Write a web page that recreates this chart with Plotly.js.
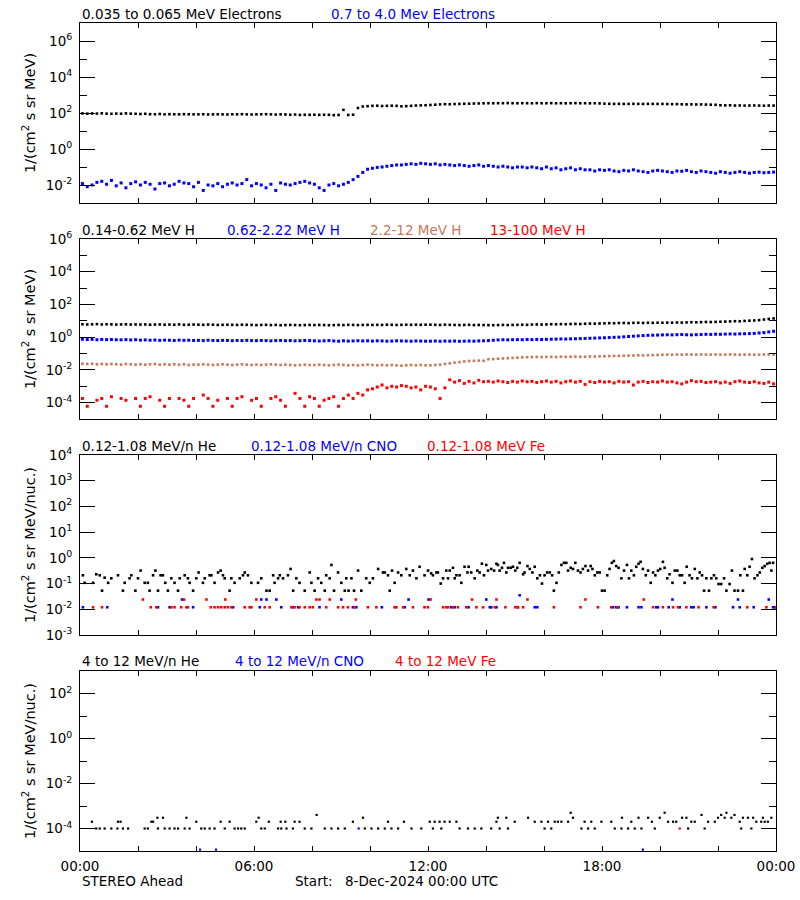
<!DOCTYPE html>
<html><head><meta charset="utf-8">
<script src="https://cdn.plot.ly/plotly-3.0.1.min.js"></script>
<style>body{margin:0;background:#fff}#plot{width:800px;height:900px}</style>
</head><body><div id="plot"></div><script>
// ---------- data (10-minute bins, 8-Dec-2024) ----------
const elecLow = [95,92,94,93,96,92,90,93,91,95,92,90,
88,90,86,85,88,84,86,85,84,86,85,84,
84,85,83,84,85,84,83,85,84,86,84,83,
84,85,86,84,82,84,83,80,82,78,80,79,
80,78,80,79,76,78,150,78,80,190,230,240,
250,255,245,250,255,250,235,240,250,260,265,270,
280,290,300,310,305,315,320,325,330,335,340,345,
350,348,352,350,355,350,348,352,350,348,352,350,
350,352,348,350,345,350,352,348,350,345,348,340,
330,325,320,322,318,320,325,320,318,322,320,318,
320,315,310,312,305,300,302,298,300,295,290,285,
270,265,268,260,262,258,260,262,258,255,260,258];
const elecHigh = [0.012,0.008,0.010,0.014,0.016,0.011,0.018,0.009,0.013,0.007,0.012,0.015,
0.010,0.014,0.011,0.006,0.012,0.013,0.009,0.011,0.016,0.013,0.012,0.008,
0.014,0.005,0.010,0.009,0.012,0.008,0.011,0.013,0.010,0.012,0.020,0.009,
0.012,0.010,0.007,0.011,0.005,0.013,0.011,0.010,0.012,0.014,0.016,0.013,
0.011,0.007,0.005,0.010,0.012,0.009,0.011,0.014,0.020,0.030,0.050,0.075,
0.085,0.095,0.10,0.11,0.12,0.13,0.13,0.14,0.15,0.14,0.16,0.15,
0.14,0.15,0.13,0.14,0.13,0.12,0.13,0.12,0.11,0.12,0.13,0.11,
0.12,0.11,0.10,0.11,0.10,0.09,0.10,0.10,0.09,0.10,0.09,0.08,
0.10,0.08,0.09,0.07,0.08,0.09,0.07,0.08,0.07,0.07,0.06,0.07,
0.065,0.07,0.06,0.055,0.065,0.06,0.07,0.06,0.055,0.05,0.06,0.065,
0.06,0.055,0.05,0.06,0.058,0.065,0.055,0.05,0.06,0.055,0.05,0.045,
0.055,0.05,0.045,0.05,0.055,0.05,0.045,0.05,0.052,0.048,0.05,0.052];
const protA = [6.2,6.0,6.1,6.3,6.0,6.2,6.1,5.9,6.0,6.1,5.9,6.0,
5.9,6.0,5.8,5.9,6.0,5.8,5.9,5.8,6.0,5.7,5.8,5.9,
5.8,5.7,5.9,5.8,5.6,5.7,5.8,5.7,5.6,5.8,5.7,5.6,
5.5,5.6,5.7,5.5,5.6,5.4,5.5,5.6,5.5,5.4,5.5,5.6,
5.5,5.6,5.5,5.4,5.5,5.6,5.5,5.7,5.6,5.5,5.6,5.7,
5.6,5.7,5.6,5.8,5.7,5.6,5.7,5.8,5.7,5.8,5.7,5.8,
5.8,5.7,5.6,5.8,5.7,5.6,5.5,5.6,5.7,5.5,5.6,5.5,
5.5,5.4,5.5,5.6,5.5,5.6,5.7,5.8,5.7,5.9,6.0,5.9,
6.0,6.2,6.1,6.3,6.2,6.4,6.5,6.4,6.6,6.8,6.7,6.9,
7.0,7.2,7.1,7.3,7.4,7.2,7.5,7.6,7.4,7.6,7.5,7.7,
7.6,7.8,7.7,7.9,7.8,8.0,8.2,8.1,8.3,8.5,8.4,8.6,
8.8,9.0,9.2,9.5,9.4,9.8,10.2,10.5,11.0,12.0,13.0,14.0];
const protB = [0.75,0.72,0.74,0.70,0.73,0.71,0.72,0.70,0.69,0.71,0.68,0.70,
0.66,0.68,0.65,0.67,0.64,0.66,0.65,0.63,0.66,0.64,0.65,0.63,
0.64,0.62,0.65,0.63,0.62,0.64,0.63,0.61,0.63,0.62,0.64,0.62,
0.61,0.63,0.62,0.60,0.62,0.63,0.61,0.62,0.60,0.61,0.63,0.62,
0.60,0.58,0.60,0.62,0.59,0.57,0.60,0.58,0.59,0.61,0.59,0.60,
0.58,0.60,0.59,0.57,0.58,0.60,0.59,0.58,0.57,0.59,0.58,0.57,
0.57,0.58,0.56,0.58,0.57,0.58,0.56,0.57,0.58,0.57,0.59,0.60,
0.62,0.65,0.68,0.70,0.69,0.70,0.71,0.70,0.72,0.71,0.73,0.72,
0.74,0.75,0.76,0.78,0.77,0.79,0.80,0.82,0.84,0.86,0.88,0.90,
0.92,0.95,0.98,1.00,1.05,1.10,1.15,1.20,1.25,1.30,1.32,1.35,
1.38,1.40,1.38,1.42,1.45,1.40,1.38,1.42,1.45,1.50,1.48,1.52,
1.50,1.55,1.58,1.55,1.60,1.62,1.65,1.70,1.80,1.90,2.10,2.30];
const protC = [0.024,0.023,0.024,0.022,0.023,0.022,0.023,0.022,0.021,0.023,0.022,0.021,
0.022,0.021,0.022,0.023,0.021,0.022,0.021,0.022,0.021,0.022,0.020,0.021,
0.021,0.022,0.021,0.020,0.021,0.022,0.021,0.020,0.021,0.022,0.021,0.020,
0.021,0.020,0.021,0.022,0.021,0.020,0.021,0.020,0.019,0.020,0.021,0.020,
0.020,0.021,0.020,0.019,0.020,0.021,0.020,0.019,0.020,0.019,0.020,0.021,
0.020,0.019,0.020,0.019,0.020,0.019,0.018,0.019,0.020,0.019,0.020,0.019,
0.019,0.020,0.021,0.023,0.025,0.028,0.030,0.033,0.035,0.036,0.037,0.036,
0.045,0.046,0.048,0.050,0.052,0.054,0.056,0.058,0.060,0.061,0.062,0.061,
0.062,0.063,0.062,0.064,0.063,0.064,0.065,0.063,0.064,0.066,0.065,0.067,
0.068,0.070,0.071,0.072,0.073,0.075,0.076,0.078,0.077,0.079,0.080,0.082,
0.084,0.086,0.085,0.087,0.086,0.088,0.087,0.086,0.088,0.087,0.086,0.088,
0.087,0.086,0.088,0.087,0.085,0.086,0.087,0.086,0.085,0.087,0.088,0.087];
const protD = [1.8e-4,6e-5,null,1.4e-4,1.8e-4,6e-5,2.3e-4,null,1.8e-4,1.4e-4,null,1.8e-4,
6e-5,1.8e-4,2.3e-4,null,1.4e-4,6e-5,1.8e-4,null,1.8e-4,1.4e-4,6e-5,1.8e-4,
null,2.9e-4,1.8e-4,6e-5,1.4e-4,null,1.8e-4,6e-5,1.8e-4,2.3e-4,null,1.4e-4,
1.8e-4,6e-5,null,1.8e-4,2.3e-4,1.4e-4,6e-5,null,3.7e-4,1.8e-4,6e-5,2.3e-4,
1.8e-4,6e-5,1.4e-4,1.8e-4,2.3e-4,6e-5,1.8e-4,2.9e-4,1.8e-4,3.7e-4,2.9e-4,6e-4,
7e-4,9e-4,1.2e-3,8e-4,1.0e-3,9e-4,1.1e-3,1.0e-3,8e-4,9e-4,6e-4,1.0e-3,
9e-4,7e-4,1.8e-4,8e-4,2.5e-3,1.8e-3,2.2e-3,1.5e-3,2.0e-3,1.6e-3,2.3e-3,1.9e-3,
2.0e-3,1.8e-3,2.1e-3,1.9e-3,1.7e-3,2.0e-3,1.8e-3,2.1e-3,1.9e-3,2.0e-3,1.7e-3,1.9e-3,
2.1e-3,1.8e-3,2.0e-3,1.6e-3,1.9e-3,2.1e-3,1.8e-3,2.0e-3,1.3e-3,1.9e-3,1.7e-3,2.0e-3,
1.8e-3,1.9e-3,1.6e-3,2.0e-3,1.8e-3,1.9e-3,1.2e-3,1.8e-3,2.0e-3,1.7e-3,1.9e-3,1.8e-3,
2.1e-3,1.8e-3,1.9e-3,1.6e-3,1.4e-3,1.8e-3,2.2e-3,1.9e-3,2.0e-3,1.7e-3,1.8e-3,1.9e-3,
1.6e-3,1.8e-3,1.5e-3,1.9e-3,2.1e-3,1.8e-3,1.7e-3,1.9e-3,1.6e-3,1.5e-3,1.8e-3,1.4e-3];

// low-energy ions (hours, values)
const heLoT = [0.10,0.16,0.45,0.56,0.68,0.76,0.85,0.97,1.08,1.31,1.48,1.54,1.71,1.77,1.91,2.00,2.09,2.23,2.34,2.40,2.52,2.60,2.69,2.78,2.86,2.94,3.03,3.15,3.26,3.38,3.44,3.61,3.72,3.78,3.90,4.01,4.09,4.24,4.30,4.47,4.53,4.64,4.76,4.85,4.93,4.99,5.16,5.22,5.33,5.51,5.62,5.68,5.79,5.91,6.14,6.25,6.43,6.54,6.66,6.71,6.83,6.89,7.00,7.17,7.26,7.35,7.46,7.57,7.75,7.92,7.98,8.09,8.21,8.32,8.44,8.49,8.61,8.67,8.76,8.90,9.01,9.13,9.18,9.26,9.36,9.45,9.59,9.70,9.87,9.99,10.10,10.28,10.45,10.51,10.62,10.68,10.76,10.85,10.97,11.08,11.25,11.37,11.48,11.60,11.71,11.88,
12.00,12.11,12.17,12.29,12.34,12.44,12.52,12.63,12.69,12.75,12.86,12.92,12.98,13.09,13.15,13.26,13.36,13.40,13.49,13.61,13.70,13.78,13.86,13.93,14.01,14.07,14.18,14.28,14.36,14.41,14.47,14.55,14.62,14.70,14.76,14.85,14.93,15.01,15.08,15.16,15.28,15.33,15.43,15.51,15.60,15.68,15.77,15.86,15.93,16.02,16.11,16.20,16.28,16.34,16.43,16.51,16.60,16.69,16.77,16.83,16.92,17.00,17.08,17.17,17.26,17.34,17.43,17.52,17.61,17.67,17.75,17.84,17.92,18.00,18.09,18.18,18.26,18.34,18.41,18.49,18.57,18.67,18.76,18.86,18.93,19.01,19.10,19.18,19.26,19.33,19.41,19.51,19.59,19.68,19.76,19.84,19.93,20.01,20.10,20.16,20.25,20.33,20.43,20.51,20.60,20.68,20.76,20.85,20.92,21.02,21.10,21.20,21.29,21.37,21.45,21.52,21.60,21.69,21.77,21.86,21.94,22.02,22.11,22.21,22.29,22.40,22.48,22.57,22.69,22.77,22.86,22.92,23.01,23.09,23.17,23.26,23.36,23.44,23.53,23.61,23.70,23.78,23.84,23.90];
const heLoV = [0.21,0.107,0.107,0.23,0.21,0.053,0.17,0.107,0.16,0.21,0.053,0.107,0.16,0.21,0.053,0.16,0.32,0.107,0.107,0.053,0.21,0.32,0.053,0.21,0.21,0.107,0.053,0.16,0.107,0.053,0.16,0.21,0.16,0.107,0.053,0.16,0.27,0.107,0.16,0.21,0.21,0.107,0.27,0.32,0.21,0.16,0.053,0.16,0.107,0.16,0.21,0.27,0.21,0.107,0.107,0.16,0.053,0.053,0.21,0.107,0.16,0.21,0.16,0.21,0.37,0.053,0.16,0.107,0.053,0.27,0.107,0.053,0.16,0.107,0.053,0.21,0.16,0.53,0.053,0.27,0.107,0.053,0.16,0.053,0.16,0.053,0.32,0.053,0.16,0.107,0.16,0.37,0.27,0.27,0.21,0.053,0.32,0.107,0.27,0.21,0.37,0.21,0.32,0.16,0.45,0.21,
0.32,0.25,0.21,0.27,0.27,0.1,0.16,0.32,0.16,0.32,0.41,0.16,0.21,0.21,0.107,0.45,0.27,0.45,0.27,0.16,0.32,0.27,0.59,0.21,0.53,0.32,0.37,0.32,0.59,0.53,0.32,0.41,0.64,0.27,0.41,0.41,0.45,0.32,0.41,0.64,0.23,0.27,0.48,0.37,0.27,0.45,0.16,0.21,0.1,0.21,0.27,0.27,0.21,0.053,0.107,0.27,0.53,0.64,0.64,0.32,0.41,0.37,0.64,0.32,0.27,0.37,0.48,0.32,0.48,0.37,0.21,0.27,0.27,0.053,0.053,0.21,0.37,0.64,0.75,0.48,0.41,0.16,0.32,0.53,0.16,0.32,0.21,0.45,0.59,0.7,0.37,0.21,0.32,0.107,0.27,0.21,0.32,0.37,0.7,0.41,0.16,0.23,0.107,0.32,0.32,0.21,0.21,0.107,0.45,0.21,0.16,0.37,0.16,0.27,0.21,0.053,0.16,0.053,0.16,0.21,0.16,0.096,0.096,0.16,0.053,0.096,0.32,0.053,0.053,0.21,0.053,0.37,0.21,0.45,0.9,0.16,0.21,0.27,0.41,0.48,0.59,0.64,0.32,0.64];
const cnoLoT = [0.10,0.94,2.69,3.09,3.52,3.90,5.28,6.20,6.25,6.43,6.77,6.94,7.35,7.52,8.26,9.01,9.41,9.53,10.41,11.20,11.33,
12.02,12.80,12.92,13.40,14.01,14.13,14.18,14.36,15.10,15.16,15.68,15.77,18.38,18.49,18.57,18.86,19.26,19.36,19.87,19.93,20.30,20.43,20.68,21.08,21.16,21.60,21.91,22.52,22.69,22.75,23.23,23.75,23.90,23.95];
const cnoLoV = [0.012,0.012,0.012,0.012,0.024,0.012,0.012,0.012,0.024,0.024,0.024,0.012,0.012,0.012,0.012,0.024,0.012,0.012,0.012,0.012,0.024,
0.024,0.012,0.012,0.012,0.024,0.012,0.012,0.012,0.012,0.035,0.012,0.012,0.012,0.012,0.012,0.012,0.012,0.012,0.012,0.012,0.012,0.024,0.012,0.012,0.012,0.012,0.012,0.012,0.024,0.012,0.012,0.024,0.012,0.012];
const feLoT = [0.45,0.76,2.17,2.44,2.63,3.15,3.26,3.49,3.59,3.67,3.72,4.36,4.51,4.64,4.76,4.87,4.99,5.01,5.10,5.22,5.68,5.85,5.91,6.08,6.37,6.54,7.29,7.40,7.57,7.75,7.92,8.03,8.15,8.26,8.49,8.61,8.90,9.07,9.24,9.47,9.51,9.93,10.22,10.85,10.91,11.14,11.48,11.88,
12.00,12.09,12.52,12.63,12.69,12.86,13.03,13.32,13.52,13.67,13.90,14.30,14.36,14.67,15.01,15.10,15.28,15.43,16.34,17.26,17.43,17.86,18.32,18.53,19.44,19.76,20.10,20.45,20.62,20.91,21.33,21.85,23.01,23.67,23.99];
const feLoV = [0.012,0.012,0.024,0.012,0.012,0.012,0.012,0.012,0.024,0.012,0.012,0.024,0.012,0.012,0.012,0.012,0.012,0.024,0.012,0.012,0.012,0.012,0.012,0.024,0.012,0.012,0.012,0.012,0.012,0.012,0.012,0.012,0.024,0.024,0.012,0.024,0.012,0.012,0.012,0.012,0.024,0.012,0.012,0.012,0.012,0.012,0.012,0.012,
0.012,0.024,0.012,0.012,0.012,0.012,0.012,0.012,0.024,0.012,0.012,0.012,0.024,0.012,0.012,0.012,0.012,0.024,0.012,0.012,0.024,0.012,0.012,0.012,0.024,0.012,0.012,0.012,0.012,0.012,0.012,0.012,0.012,0.012,0.012];

// high-energy ions (hours, values)
const heHiT = [0.41,0.56,0.68,0.85,1.08,1.29,1.31,1.40,1.48,1.66,2.23,2.34,2.46,2.52,2.67,2.69,2.86,2.92,3.09,3.26,3.38,3.61,3.67,3.78,4.01,4.18,4.30,4.47,4.64,4.85,4.99,5.16,5.33,5.45,5.56,5.68,6.08,6.16,6.25,6.37,6.51,6.83,6.92,6.94,7.08,7.12,7.34,7.40,7.57,7.75,7.98,8.16,8.44,8.67,8.90,9.13,9.41,9.76,9.82,10.05,10.28,10.51,10.62,10.74,10.97,11.17,11.43,11.77,
12.06,12.17,12.23,12.40,12.46,12.57,12.75,12.98,13.09,13.38,13.61,13.84,14.18,14.36,14.41,14.47,14.70,14.76,14.99,15.45,15.68,15.91,16.02,16.14,16.25,16.37,16.48,16.60,16.83,16.92,17.00,17.29,17.40,17.52,17.63,17.75,17.98,18.32,18.44,18.67,18.69,18.90,19.01,19.13,19.26,19.36,19.59,19.72,19.82,19.99,20.16,20.28,20.45,20.56,20.76,20.91,20.97,21.08,21.20,21.43,21.54,21.66,21.89,22.00,22.11,22.23,22.29,22.46,22.57,22.75,22.80,22.86,23.03,23.15,23.21,23.32,23.49,23.55,23.61,23.72,23.84];
const heHiV = [2e-4,1e-4,1e-4,1e-4,1e-4,1e-4,2e-4,2e-4,1e-4,1e-4,1e-4,1e-4,2e-4,2e-4,3e-4,1e-4,3e-4,1e-4,1e-4,1e-4,1e-4,1e-4,3e-4,1e-4,2e-4,1e-4,1e-4,1e-4,1e-4,2e-4,1e-4,2e-4,1e-4,1e-4,1e-4,1e-4,2e-4,3e-4,1e-4,1e-4,2e-4,1e-4,2e-4,1e-4,2e-4,1e-4,1e-4,2e-4,2e-4,1e-4,1e-4,4e-4,1e-4,1e-4,1e-4,1e-4,2e-4,3e-4,1e-4,1e-4,1e-4,1e-4,2e-4,1e-4,1e-4,2e-4,1e-4,1e-4,
2e-4,1e-4,2e-4,2e-4,1e-4,2e-4,2e-4,2e-4,1e-4,1e-4,1e-4,1e-4,1e-4,2e-4,3e-4,1e-4,3e-4,1e-4,2e-4,3e-4,2e-4,2e-4,1e-4,2e-4,1e-4,2e-4,2e-4,2e-4,2e-4,5e-4,3e-4,1e-4,2e-4,1e-4,2e-4,1e-4,2e-4,2e-4,1e-4,1e-4,3e-4,1e-4,2e-4,1e-4,3e-4,1e-4,3e-4,2e-4,1e-4,3e-4,5e-4,2e-4,2e-4,2e-4,3e-4,3e-4,1e-4,2e-4,2e-4,4e-4,1e-4,2e-4,2e-4,3e-4,4e-4,3e-4,5e-4,3e-4,4e-4,2e-4,1e-4,3e-4,3e-4,1e-4,3e-4,2e-4,2e-4,3e-4,2e-4,2e-4,3e-4];
const cnoHiT = [4.14,4.69,9.61,19.41];
const cnoHiV = [1.15e-5,1.15e-5,1e-4,1.15e-5];
const feHiT = [20.68];
const feHiV = [1e-4];

// axis tick exponents
const p1Major = [-2,0,2,4,6], p1Minor = [-1,1,3,5];
const p2Major = [-4,-2,0,2,4,6], p2Minor = [-3,-1,1,3,5];
const p3Major = [-3,-2,-1,0,1,2,3,4], p3Minor = [];
const p4Major = [-4,-2,0,2], p4Minor = [-3,-1,1];

// labels
const COL = {k:'#000000', b:'#0000ff', s:'#c8785a', r:'#ff0000'};
const panelLabels = [
  {py:13.5, items:[['0.035 to 0.065 MeV Electrons',80,'k'],['0.7 to 4.0 Mev Electrons',329,'b']]},
  {py:229.5, items:[['0.14-0.62 MeV H',80,'k'],['0.62-2.22 MeV H',225,'b'],['2.2-12 MeV H',368,'s'],['13-100 MeV H',488,'r']]},
  {py:446, items:[['0.12-1.08 MeV/n He',80,'k'],['0.12-1.08 MeV/n CNO',249,'b'],['0.12-1.08 MeV Fe',425,'r']]},
  {py:661, items:[['4 to 12 MeV/n He',80,'k'],['4 to 12 MeV/n CNO',233,'b'],['4 to 12 MeV Fe',393,'r']]},
  {py:881, items:[['STEREO Ahead',80,'k'],['Start:',293,'k'],['8-Dec-2024 00:00 UTC',343,'k']]}
];
const T1 = '1/(cm<sup>2</sup> s sr MeV)';
const T2 = '1/(cm<sup>2</sup> s sr MeV/nuc.)';

// ---------- build ----------
const F = 'DejaVu Sans';
const FS = 13.5;
const T0 = Date.UTC(2024, 11, 8);
function ts(h){ return new Date(T0 + h*3600000).toISOString().slice(0,19).replace('T',' '); }
const gridH = elecLow.map((_, i) => i/6 + 1/12);

function sc(hours, vals, c, n, size){
  return {type:'scatter', mode:'markers', x:hours.map(ts), y:vals,
    xaxis: n===1?'x':'x'+n, yaxis: n===1?'y':'y'+n,
    marker:{symbol:'square', size:size||2.6, color:COL[c], line:{width:0}},
    hoverinfo:'skip', showlegend:false};
}
const data = [
  sc(gridH, elecLow, 'k', 1), sc(gridH, elecHigh, 'b', 1, 3),
  sc(gridH, protA, 'k', 2), sc(gridH, protB, 'b', 2, 3), sc(gridH, protC, 's', 2), sc(gridH, protD, 'r', 2, 3),
  sc(heLoT, heLoV, 'k', 3, 2.6), sc(cnoLoT, cnoLoV, 'b', 3, 2.6), sc(feLoT, feLoV, 'r', 3, 2.6),
  sc(heHiT, heHiV, 'k', 4, 2.2), sc(cnoHiT, cnoHiV, 'b', 4, 2.2), sc(feHiT, feHiV, 'r', 4, 2.2)
];

function supLabel(e){ return '10<sup>' + (e<0?'-':'') + Math.abs(e) + '</sup>'; }
function xax(n, labels){
  return {type:'date', range:[ts(0), ts(24)], domain:[0.1,0.97], anchor: n===1?'y':'y'+n,
    tick0: ts(0), dtick: 6*3600000, tickformat:'%H:%M', showticklabels: labels,
    ticks:'inside', ticklen:5, tickwidth:1, tickcolor:'#000',
    minor:{tick0: ts(0), dtick: 2*3600000, ticks:'inside', ticklen:5, tickwidth:1, tickcolor:'#000', showgrid:false},
    showline:true, linecolor:'#000', linewidth:1, mirror:'ticks', showgrid:false, zeroline:false,
    ticklabelstandoff:3, tickfont:{family:F, size:FS, color:'#000'}, fixedrange:true, automargin:false};
}
function yax(n, top, bottom, range, major, minor, title){
  return {type:'log', range:range, domain:[1-bottom/900, 1-top/900], anchor: n===1?'x':'x'+n,
    tickmode:'array', tickvals: major.map(e=>Math.pow(10,e)), ticktext: major.map(supLabel),
    ticks:'inside', ticklen:15, tickwidth:1, tickcolor:'#000',
    minor: minor.length ? {tickmode:'array', tickvals: minor.map(e=>Math.pow(10,e)), ticks:'inside', ticklen:7, tickwidth:1, tickcolor:'#000', showgrid:false} : undefined,
    showline:true, linecolor:'#000', linewidth:1, mirror:'ticks', showgrid:false, zeroline:false,
    tickfont:{family:F, size:FS, color:'#000'}, ticklabelstandoff:4,
    title:{text:title, font:{family:F, size:14.5, color:'#000'}, standoff:6},
    fixedrange:true, automargin:false};
}

const annotations = [];
panelLabels.forEach(p => p.items.forEach(it => annotations.push({
  text: it[0], x: it[1]/800, y: 1 - p.py/900, xref:'paper', yref:'paper',
  xanchor:'left', yanchor:'middle', showarrow:false,
  font:{family:F, size:FS, color:COL[it[2]]}
})));

const layout = {
  width:800, height:900, margin:{l:0,r:0,t:0,b:0},
  paper_bgcolor:'#fff', plot_bgcolor:'#fff', showlegend:false,
  xaxis: xax(1,false), xaxis2: xax(2,false), xaxis3: xax(3,false), xaxis4: xax(4,true),
  yaxis: yax(1, 23, 203, [-3,7], p1Major, p1Minor, T1),
  yaxis2: yax(2, 239, 419, [-5,6], p2Major, p2Minor, T1),
  yaxis3: yax(3, 455, 635, [-3,4], p3Major, p3Minor, T2),
  yaxis4: yax(4, 671, 851, [-5,3], p4Major, p4Minor, T2),
  annotations: annotations
};
Plotly.newPlot('plot', data, layout, {staticPlot:true, displayModeBar:false});
</script></body></html>
